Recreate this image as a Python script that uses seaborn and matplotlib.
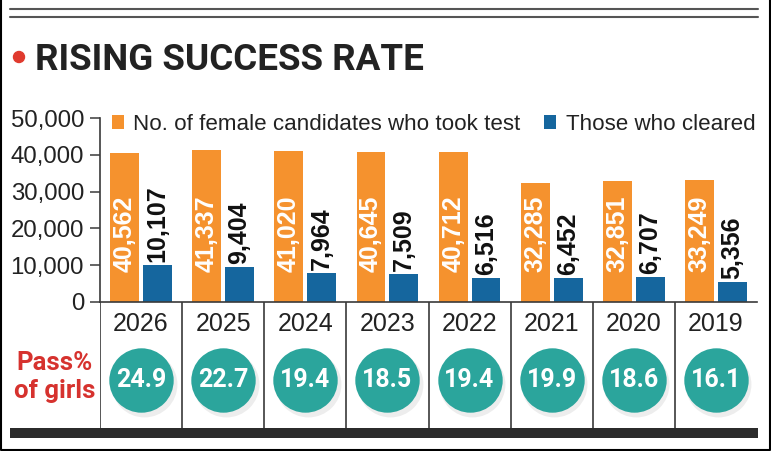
import numpy as np
import pandas as pd
import matplotlib.pyplot as plt
import seaborn as sns
from matplotlib.lines import Line2D
from matplotlib.patches import Rectangle, Ellipse

# Datos del gráfico
anios = ["2026", "2025", "2024", "2023", "2022", "2021", "2020", "2019"]
presentados = [40562, 41337, 41020, 40645, 40712, 32285, 32851, 33249]
aprobados = [10107, 9404, 7964, 7509, 6516, 6452, 6707, 5356]
pct_aprobadas = [24.9, 22.7, 19.4, 18.5, 19.4, 19.9, 18.6, 16.1]
etiqueta_pres = "No. of female candidates who took test"
etiqueta_apr = "Those who cleared"
yticks = [0, 10000, 20000, 30000, 40000, 50000]

NARANJA = "#F5922E"
AZUL = "#15669E"
VERDE = "#2BA59C"
ROJO = "#D6322E"
GRIS = "#3a3a3a"

df = pd.DataFrame({
    "Anio": anios * 2,
    "Valor": presentados + aprobados,
    "Serie": [etiqueta_pres] * len(anios) + [etiqueta_apr] * len(anios),
})

sns.set_style("white")
plt.rcParams["font.family"] = ["Liberation Sans", "DejaVu Sans"]
ESTRECHA = ["Roboto", "Liberation Sans", "DejaVu Sans"]

W, H = 771, 451
fig = plt.figure(figsize=(W / 100, H / 100), dpi=100)

# --- Panel de barras ---
ax = fig.add_axes([100 / W, 149 / H, 657 / W, 184 / H])
sns.barplot(data=df, x="Anio", y="Valor", hue="Serie", order=anios,
            hue_order=[etiqueta_pres, etiqueta_apr],
            palette=[NARANJA, AZUL], saturation=1, width=0.8, gap=0.12,
            linewidth=0, ax=ax)
ax.set_ylim(0, 50000)
ax.set_xlim(-0.5, len(anios) - 0.5)
ax.set_xlabel("")
ax.set_ylabel("")
ax.set_yticks(yticks)
ax.set_yticklabels([f"{v:,}" for v in yticks])
ax.tick_params(axis="y", length=7.2, width=1.1, pad=4.3, labelsize=17.3,
               colors=GRIS, labelcolor="#222222", left=True)
ax.tick_params(axis="x", bottom=False, labelbottom=False)
sns.despine(ax=ax, top=True, right=True)
for lado in ["left", "bottom"]:
    ax.spines[lado].set_color(GRIS)
    ax.spines[lado].set_linewidth(1.2)

# Etiquetas de valores
for p, v in zip(ax.containers[0], presentados):
    ax.annotate(f"{v:,}", xy=(p.get_x() + p.get_width() / 2, 0),
                xytext=(0, 21.6), textcoords="offset points", rotation=90,
                ha="center", va="bottom", color="white", fontsize=18,
                fontweight="bold")
ax.bar_label(ax.containers[1], labels=[f"{v:,}" for v in aprobados],
             rotation=90, padding=2.2, fontsize=18, fontweight="bold",
             color="#111111")

# Leyenda
sns.move_legend(ax, loc="center left", bbox_to_anchor=(112 / W, 1 - 124 / H),
                bbox_transform=fig.transFigure, ncol=2, frameon=False,
                title=None, fontsize=16.1, handlelength=0.54,
                handleheight=0.6, handletextpad=0.42, columnspacing=1.05,
                borderpad=0, borderaxespad=0)
for t in ax.get_legend().get_texts():
    t.set_color("#222222")

# --- Panel inferior: años y porcentajes ---
ax2 = fig.add_axes([100 / W, 23 / H, 657 / W, 126 / H])
ax2.set_xlim(-0.5, len(anios) - 0.5)
ax2.set_ylim(0, 1)
ax2.axis("off")
ax2.vlines(np.arange(len(anios)) - 0.5, 0, 1, color=GRIS, lw=1.2)
xs = np.arange(len(anios))
ax2.scatter(xs + 0.03, np.full(len(xs), 0.381 - 0.03), s=2250,
            color="black", alpha=0.07, linewidths=0, zorder=2)
ax2.scatter(xs, np.full(len(xs), 0.381), s=2150, color=VERDE,
            linewidths=0, zorder=3)
for x, anio, pct in zip(xs, anios, pct_aprobadas):
    ax2.text(x, 0.825, anio, ha="center", va="center", fontsize=18,
             color="#222222")
    ax2.text(x, 0.381, f"{pct:.1f}", ha="center", va="center", fontsize=18,
             fontweight="bold", color="white", zorder=4, family=ESTRECHA)

fig.text(55 / W, 1 - 377 / H, "Pass%\nof girls", ha="center", va="center",
         fontsize=18.5, fontweight="bold", color=ROJO, family=ESTRECHA,
         linespacing=1.25)

# --- Título y adornos ---
fig.text(35 / W, 1 - 70 / H, "RISING SUCCESS RATE", ha="left",
         va="baseline", fontsize=26.5, fontweight="bold", color="#222222",
         family=ESTRECHA)
fig.add_artist(Ellipse((19 / W, 1 - 57 / H), 11 / W, 11 / H,
                       transform=fig.transFigure, color="#E03A2E"))
for yy in [8.5, 16.5]:
    fig.add_artist(Line2D([10 / W, 758 / W], [1 - yy / H, 1 - yy / H],
                          transform=fig.transFigure, color="#555555", lw=1.5))
fig.add_artist(Rectangle((10 / W, 13 / H), 748 / W, 10 / H,
                         transform=fig.transFigure, color="#2b2b2b", lw=0))
fig.add_artist(Line2D([0.8 / W, 0.8 / W, 769.5 / W, 769.5 / W],
                      [1, 1.5 / H, 1.5 / H, 1], transform=fig.transFigure,
                      color="black", lw=1.5))

fig.savefig("out.png", dpi=100)
plt.close()
